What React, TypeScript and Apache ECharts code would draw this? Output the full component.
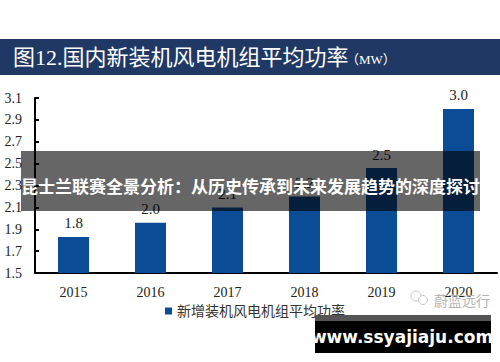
import React, { useEffect, useRef } from "react";
import * as echarts from "echarts";

const years = ["2015", "2016", "2017", "2018", "2019", "2020"];
const avgPower = [1.83, 1.96, 2.1, 2.2, 2.46, 3.0];
const BASE = 1.5;
const TOP = 3.1;
const STEP = 0.2;
const titleText = "图12.国内新装机风电机组平均功率";
const unitText = "（MW）";
const seriesName = "新增装机风电机组平均功率";
const bannerText = "昆士兰联赛全景分析：从历史传承到未来发展趋势的深度探讨";
const siteText = "www.ssyajiaju.com";
const markText = "蔚蓝远行";

const SERIF = "'Liberation Serif', 'Noto Sans CJK SC', serif";

export default function App() {
  const ref = useRef<HTMLDivElement>(null);
  useEffect(() => {
    if (!ref.current) return;
    const chart = echarts.init(ref.current, null, { renderer: "svg" });
    chart.setOption({
      animation: false,
      backgroundColor: "#ffffff",
      grid: { left: 35, right: 3, top: 98, bottom: 89, containLabel: false },
      legend: {
        data: [{ name: seriesName, icon: "rect" }],
        left: 160,
        top: 299,
        itemWidth: 7,
        itemHeight: 7,
        itemGap: 4,
        textStyle: { fontFamily: SERIF, fontSize: 14, color: "#333" },
      },
      xAxis: {
        type: "category",
        data: years,
        axisLine: { lineStyle: { color: "#000", width: 2 } },
        axisTick: { show: false },
        axisLabel: { fontFamily: SERIF, fontSize: 14, color: "#222", margin: 12 },
      },
      yAxis: {
        type: "value",
        min: 0,
        max: TOP - BASE,
        interval: STEP,
        splitLine: { show: false },
        axisLine: { show: true, lineStyle: { color: "#000", width: 2 } },
        axisTick: { show: true, inside: true, length: 4, lineStyle: { color: "#000", width: 2 } },
        axisLabel: {
          fontFamily: SERIF,
          fontSize: 14,
          color: "#222",
          margin: 13,
          formatter: (v: number) => (v + BASE).toFixed(1),
        },
      },
      series: [
        {
          name: seriesName,
          type: "bar",
          data: avgPower.map((v) => v - BASE),
          barWidth: 31,
          itemStyle: { color: "#0a4d96" },
          label: {
            show: true,
            position: "top",
            distance: 6,
            fontFamily: SERIF,
            fontSize: 15,
            color: "#222",
            formatter: (p: any) => avgPower[p.dataIndex].toFixed(1),
          },
        },
      ],
      graphic: [
        { type: "rect", shape: { x: 0, y: 39, width: 500, height: 36 }, style: { fill: "#1f3864" }, z: 10 },
        {
          type: "text",
          x: 13,
          y: 57,
          style: { text: titleText, fill: "#ffffff", font: `22px ${SERIF}`, verticalAlign: "middle" },
          z: 11,
        },
        {
          type: "text",
          x: 346,
          y: 59,
          style: { text: unitText, fill: "#ffffff", font: `13px ${SERIF}`, verticalAlign: "middle" },
          z: 11,
        },
        { type: "rect", shape: { x: 21, y: 151, width: 459, height: 60 }, style: { fill: "rgba(0,0,0,0.6)" }, z: 20 },
        {
          type: "text",
          x: 250.5,
          y: 185,
          style: {
            text: bannerText,
            fill: "#ffffff",
            font: "bold 17px 'Noto Sans CJK SC', sans-serif",
            align: "center",
            verticalAlign: "middle",
          },
          z: 21,
        },
        { type: "circle", shape: { cx: 416, cy: 296, r: 5 }, style: { fill: "none", stroke: "#c8c8c8", lineWidth: 1 }, z: 15 },
        { type: "circle", shape: { cx: 423, cy: 300, r: 4.5 }, style: { fill: "#fff", stroke: "#c8c8c8", lineWidth: 1 }, z: 15 },
        {
          type: "text",
          x: 434,
          y: 300,
          style: { text: markText, fill: "#b4b4b4", font: "14px 'Noto Sans CJK SC', sans-serif", verticalAlign: "middle" },
          z: 15,
        },
        { type: "rect", shape: { x: 315, y: 315, width: 176, height: 38 }, style: { fill: "#000" }, z: 30 },
        { type: "rect", shape: { x: 315, y: 315, width: 176, height: 6 }, style: { fill: "#555" }, z: 31 },
        {
          type: "text",
          x: 402,
          y: 337,
          style: {
            text: siteText,
            fill: "#ffffff",
            font: "bold 17px 'DejaVu Sans', sans-serif",
            align: "center",
            verticalAlign: "middle",
          },
          z: 32,
        },
      ],
    });
    return () => chart.dispose();
  }, []);
  return <div ref={ref} style={{ width: 500, height: 362, position: "absolute", left: 0, top: 0 }} />;
}
